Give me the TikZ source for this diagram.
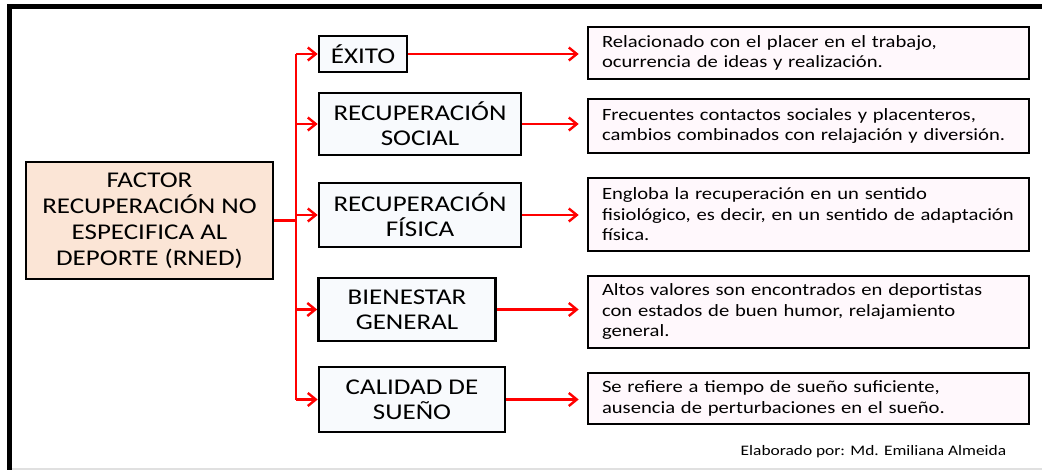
\documentclass[tikz,border=0pt]{standalone}
\usepackage{fontspec}
\setmainfont{Carlito}[FakeStretch=1.2]
\usetikzlibrary{arrows.meta}
\definecolor{peachfill}{RGB}{251,229,214}
\definecolor{itemfill}{RGB}{248,250,253}
\definecolor{descfill}{RGB}{255,248,252}

\begin{document}
\begin{tikzpicture}[x=1pt,y=-1pt,
    factorbox/.style={draw=black,line width=2.6pt,fill=peachfill,align=center,
      font=\fontsize{22.5}{26}\selectfont,inner sep=0pt},
    itembox/.style={draw=black,line width=2.6pt,fill=itemfill,align=center,
      font=\fontsize{22.5}{25}\selectfont,inner sep=0pt},
    descbox/.style={draw=black,line width=2.6pt,fill=descfill,align=left,
      font=\fontsize{17.2}{20.5}\selectfont,inner xsep=14pt,inner ysep=0pt,
      text width=413pt},
    link/.style={red,line width=2.4pt},
    arrowlink/.style={link,-{Straight Barb[length=8pt,width=13pt,line width=2.4pt]}}]
  \useasboundingbox (0,0) rectangle (1042,470);

  % frame
  \draw[line width=5pt] (9.5,470) -- (9.5,6.5) -- (1042,6.5);
  \draw[black!12,line width=2pt] (12,469) -- (1042,469);

  % main factor
  \node[factorbox,minimum width=247pt,minimum height=117pt] (factor) at (149.5,220.5)
    {FACTOR\\RECUPERACIÓN NO\\ESPECIFICA AL\\DEPORTE (RNED)};

  % items
  \node[itembox,minimum width=88pt,minimum height=36pt] (exito) at (363,54) {ÉXITO};
  \node[itembox,minimum width=202pt,minimum height=62pt] (social) at (420,124)
    {RECUPERACIÓN\\SOCIAL};
  \node[itembox,minimum width=202pt,minimum height=64pt] (fisica) at (420,215)
    {RECUPERACIÓN\\FÍSICA};
  \node[itembox,minimum width=177pt,minimum height=63pt] (bienestar) at (407,309.5)
    {BIENESTAR\\GENERAL};
  \node[itembox,minimum width=186pt,minimum height=65pt] (sueno) at (412,399.5)
    {CALIDAD DE\\SUEÑO};

  % descriptions
  \node[descbox,minimum height=52pt] (dexito) at (808.5,53)
    {Relacionado con el placer en el trabajo,\\ocurrencia de ideas y realización.};
  \node[descbox,minimum height=54pt] (dsocial) at (808.5,126)
    {Frecuentes contactos sociales y placenteros,\\cambios combinados con relajación y diversión.};
  \node[descbox,minimum height=73pt] (dfisica) at (808.5,214.5)
    {Engloba la recuperación en un sentido\\fisiológico, es decir, en un sentido de adaptación\\física.};
  \node[descbox,minimum height=72pt] (dbienestar) at (808.5,312)
    {Altos valores son encontrados en deportistas\\con estados de buen humor, relajamiento\\general.};
  \node[descbox,minimum height=51pt] (dsueno) at (808.5,398.5)
    {Se refiere a tiempo de sueño suficiente,\\ausencia de perturbaciones en el sueño.};

  \node[font=\fontsize{14.5}{16}\selectfont] (autor) at (873.5,452)
    {Elaborado por: Md. Emiliana Almeida};

  % connectors
  \coordinate (trunktop) at (296,54);
  \coordinate (trunkbot) at (296,399.5);
  \draw[link] (trunktop) -- (trunkbot);
  \draw[link] (factor.east) -- (factor.east -| trunktop);
  \foreach \item in {exito,social,fisica,bienestar,sueno}{
    \draw[arrowlink] (\item.west -| trunktop) -- (\item.west);
    \draw[arrowlink,shorten >=8pt] (\item.east) -- (\item.east -| d\item.west);
  }
\end{tikzpicture}
\end{document}
